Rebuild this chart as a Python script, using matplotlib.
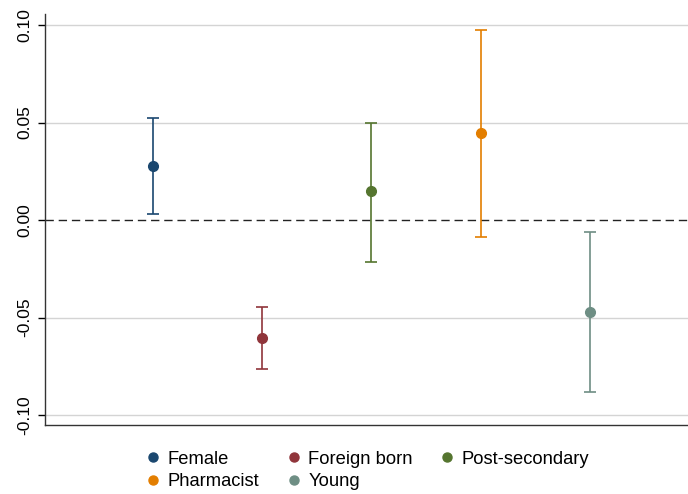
import numpy as np
import matplotlib.pyplot as plt
from matplotlib.lines import Line2D

plt.rcParams['font.family'] = ['Liberation Sans', 'DejaVu Sans']

# Coefficients and confidence bounds
labels = ['Female', 'Foreign born', 'Post-secondary', 'Pharmacist', 'Young']
coef = [0.0277, -0.0605, 0.0149, 0.0446, -0.0472]
lower = [0.0031, -0.0764, -0.0215, -0.0087, -0.0882]
upper = [0.0523, -0.0446, 0.0497, 0.0974, -0.0062]
colors = ['#1a476f', '#90353b', '#55752f', '#e37e00', '#6e8e84']
yticks = [-0.10, -0.05, 0.00, 0.05, 0.10]

fig = plt.figure(figsize=(6.88, 4.94), dpi=100)
ax = fig.add_axes([45 / 688, 69 / 494, 643 / 688, 411 / 494])

for y in yticks:
    if y != 0:
        ax.axhline(y, color='#d4d4d4', lw=1.0, zorder=0)
ax.axhline(0, color='#222222', lw=1.0, dashes=(6, 3.5), zorder=1)

handles = []
for i, (lab, c, lo, hi, col) in enumerate(zip(labels, coef, lower, upper, colors)):
    xpos = i + 1
    ax.errorbar(xpos, c, yerr=[[c - lo], [hi - c]], fmt='o', color=col,
                ms=7, elinewidth=1.2, capsize=4, capthick=1.2, zorder=3)
    handles.append(Line2D([], [], marker='o', ls='', color=col, ms=6.5, label=lab))

ax.set_xlim(0.01, 5.9)
ax.set_ylim(-0.105, 0.1056)
ax.set_xticks([])
ax.set_yticks(yticks)
ax.set_yticklabels(['%.2f' % v for v in yticks], rotation=90, va='center', fontsize=12.5)
ax.tick_params(axis='y', length=5, width=1, pad=4)

for s in ['top', 'right']:
    ax.spines[s].set_visible(False)
for s in ['left', 'bottom']:
    ax.spines[s].set_linewidth(1.0)
    ax.spines[s].set_color('#333333')

order = [0, 3, 1, 4, 2]
fig.legend([handles[k] for k in order], [labels[k] for k in order],
           ncol=3, loc='upper left', bbox_to_anchor=(0.185, 0.121),
           frameon=False, fontsize=13.2, handletextpad=0.3, columnspacing=1.37,
           labelspacing=0.3, handlelength=1.0)

fig.savefig('out.png', dpi=100)
